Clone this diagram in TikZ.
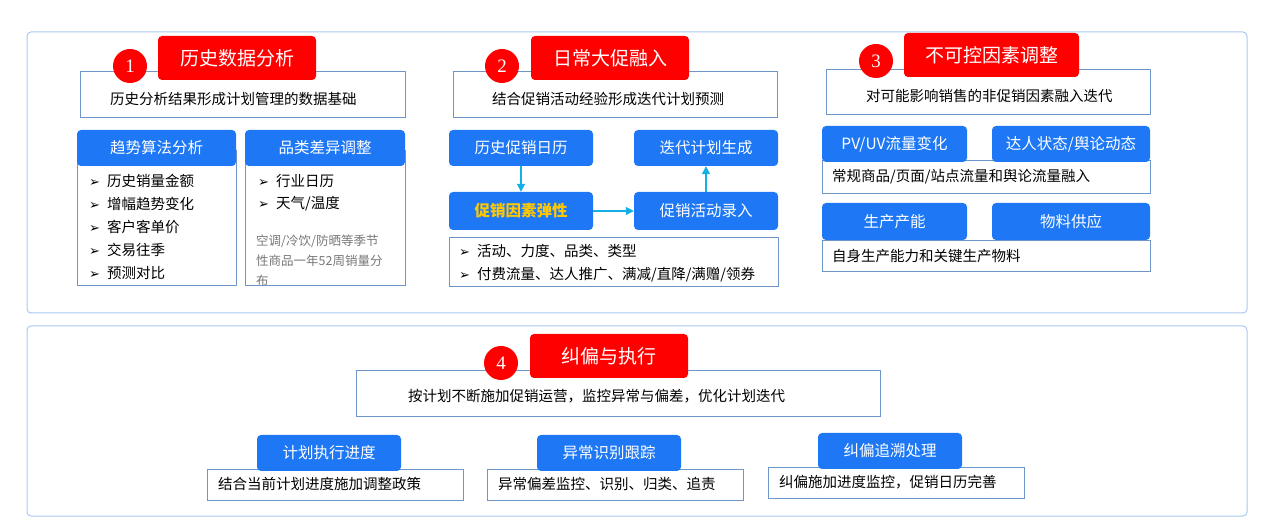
\documentclass[tikz,border=0pt]{standalone}
\usepackage{fontspec}
\setmainfont{Noto Sans CJK SC}
\newfontfamily\symfont{DejaVu Sans}
\newfontfamily\numfont{Liberation Serif}
\usetikzlibrary{arrows.meta}
\definecolor{titlered}{RGB}{255,0,0}
\definecolor{headblue}{RGB}{30,120,245}
\definecolor{panelline}{RGB}{170,200,240}
\definecolor{boxline}{RGB}{110,150,200}
\definecolor{flowcyan}{RGB}{20,175,230}
\definecolor{notegray}{RGB}{120,120,120}
\definecolor{keyyellow}{RGB}{255,200,0}
\newcommand{\tick}{{\symfont\fontsize{13}{13}\selectfont ➢}\hspace{7pt}}
\tikzset{
  panel/.style={draw=panelline, line width=1pt, rounded corners=4pt},
  descbox/.style={draw=boxline, fill=white, inner sep=0pt},
  redtitle/.style={fill=titlered, rounded corners=4pt, text=white, font=\fontsize{19}{19}\selectfont, inner sep=0pt},
  headbox/.style={fill=headblue, rounded corners=4pt, text=white, font=\fontsize{15.5}{15.5}\selectfont, inner sep=0pt},
  numdot/.style={circle, fill=titlered, text=white, minimum size=34pt, inner sep=0pt, font=\fontsize{19}{19}\selectfont\numfont},
  body/.style={font=\fontsize{14.5}{14.5}\selectfont, anchor=west, inner sep=0pt},
  flow/.style={draw=flowcyan, line width=1.3pt, -{Triangle[length=8pt,width=8pt]}}
}
\newcommand{\rect}[6]{\node[#1, minimum width=#4-#2, minimum height=#5-#3] (#6) at ({(#2+#4)/2},{(#3+#5)/2}) {};}
\begin{document}
\begin{tikzpicture}[x=1pt, y=-1pt]
\useasboundingbox (0,0) rectangle (1267,526);
\draw[panel] (27,32) rectangle (1247,313);
\draw[panel] (27,326) rectangle (1247,516);
% section 1
\rect{descbox}{80}{71}{405}{117}{D1}
\node[body] at (110,99) {历史分析结果形成计划管理的数据基础};
\rect{redtitle}{158}{36}{316}{80}{R1}
\node[text=white, font=\fontsize{19}{19}\selectfont] at (R1) {历史数据分析};
\node[numdot] (N1) at (130,66) {1};
\rect{descbox}{77}{150}{236}{285}{L1}
\rect{descbox}{245}{150}{405}{285}{L2}
\rect{headbox}{77}{130}{236}{166}{H1}
\node[headbox] at (H1) {趋势算法分析};
\rect{headbox}{245}{130}{405}{166}{H2}
\node[headbox] at (H2) {品类差异调整};
\foreach \t [count=\i] in {历史销量金额,增幅趋势变化,客户客单价,交易往季,预测对比}
  \node[body] at (89,158+23*\i) {\tick\t};
\foreach \t [count=\i] in {行业日历,天气/温度}
  \node[body] at (258,158+23*\i) {\tick\t};
\node[body, text=notegray, font=\fontsize{12.5}{20}\selectfont, align=left, anchor=north west] at (256,235) {空调/冷饮/防晒等季节\\性商品一年52周销量分\\布};
% section 2
\rect{descbox}{453}{71}{777}{117}{D2}
\node[body] at (492,99) {结合促销活动经验形成迭代计划预测};
\rect{redtitle}{531}{36}{689}{80}{R2}
\node[text=white, font=\fontsize{19}{19}\selectfont] at (R2) {日常大促融入};
\node[numdot] (N2) at (502,66) {2};
\rect{headbox}{449}{130}{593}{166}{P1}
\node[headbox] at (P1) {历史促销日历};
\rect{headbox}{634}{130}{778}{166}{P2}
\node[headbox] at (P2) {迭代计划生成};
\rect{headbox}{449}{192}{593}{230}{P3}
\node[headbox, text=keyyellow, font=\fontsize{15.5}{15.5}\selectfont\bfseries] at (P3) {促销因素弹性};
\rect{headbox}{634}{192}{778}{230}{P4}
\node[headbox] at (P4) {促销活动录入};
\rect{descbox}{449}{237}{778}{286}{L3}
\node[body] at (459,251) {\tick 活动、力度、品类、类型};
\node[body] at (459,275) {\tick 付费流量、达人推广、满减/直降/满赠/领券};
\draw[flow] (P1) -- (P3);
\draw[flow] (P3) -- (P4);
\draw[flow] (P4) -- (P2);
% section 3
\rect{descbox}{826}{69}{1150}{114}{D3}
\node[body] at (866,96) {对可能影响销售的非促销因素融入迭代};
\rect{redtitle}{904}{33}{1079}{77}{R3}
\node[text=white, font=\fontsize{19}{19}\selectfont] at (R3) {不可控因素调整};
\node[numdot] (N3) at (876,61) {3};
\rect{descbox}{822}{160}{1150}{193}{L4}
\node[body] at (832,177) {常规商品/页面/站点流量和舆论流量融入};
\rect{headbox}{822}{126}{967}{162}{U1}
\node[headbox] at (U1) {PV/UV流量变化};
\rect{headbox}{992}{126}{1150}{162}{U2}
\node[headbox] at (U2) {达人状态/舆论动态};
\rect{descbox}{822}{240}{1150}{271}{L5}
\node[body] at (832,256) {自身生产能力和关键生产物料};
\rect{headbox}{822}{203}{967}{240}{U3}
\node[headbox] at (U3) {生产产能};
\rect{headbox}{992}{203}{1150}{240}{U4}
\node[headbox] at (U4) {物料供应};
% section 4
\rect{descbox}{356}{370}{880}{416}{D4}
\node[body] at (408,396) {按计划不断施加促销运营，监控异常与偏差，优化计划迭代};
\rect{redtitle}{530}{334}{688}{378}{R4}
\node[text=white, font=\fontsize{19}{19}\selectfont] at (R4) {纠偏与执行};
\node[numdot] (N4) at (501,363) {4};
\rect{descbox}{207}{469}{463}{500}{E1}
\node[body] at (218,484) {结合当前计划进度施加调整政策};
\rect{descbox}{487}{469}{743}{500}{E2}
\node[body] at (498,484) {异常偏差监控、识别、归类、追责};
\rect{descbox}{768}{467}{1024}{498}{E3}
\node[body] at (779,482) {纠偏施加进度监控，促销日历完善};
\rect{headbox}{257}{435}{401}{471}{K1}
\node[headbox] at (K1) {计划执行进度};
\rect{headbox}{537}{435}{681}{471}{K2}
\node[headbox] at (K2) {异常识别跟踪};
\rect{headbox}{818}{433}{962}{469}{K3}
\node[headbox] at (K3) {纠偏追溯处理};
\end{tikzpicture}
\end{document}
